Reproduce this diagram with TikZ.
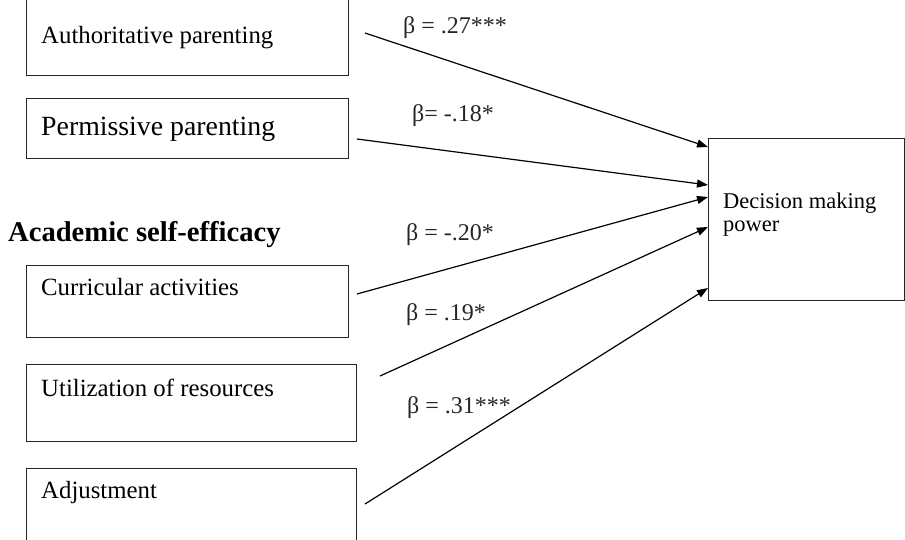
\documentclass[tikz,border=0pt]{standalone}
\usepackage{fontspec}
\setmainfont{Liberation Serif}
\usetikzlibrary{arrows.meta,calc}
\begin{document}
\begin{tikzpicture}[x=1pt,y=-1pt,
  box/.style={draw=black!85, line width=1.4pt, anchor=north west, inner sep=0pt},
  lbl/.style={anchor=base west, inner sep=0pt, font=\fontsize{24.8}{30}\selectfont},
  betalbl/.style={anchor=base west, inner sep=0pt, font=\fontsize{24}{28}\selectfont, text=black!85},
  conn/.style={line width=1.2pt, -{Triangle[length=11pt,width=8pt]}}]
\useasboundingbox (0,0) rectangle (905,539);
\clip (0,0) rectangle (905,539);
% boxes
\node[box, minimum width=322pt, minimum height=80pt] (auth) at (26,-5) {};
\node[box, minimum width=322pt, minimum height=60pt] (perm) at (26,98) {};
\node[box, minimum width=322pt, minimum height=72pt] (curr) at (26,265) {};
\node[box, minimum width=330pt, minimum height=77pt] (util) at (26,364) {};
\node[box, minimum width=330pt, minimum height=80pt] (adj) at (26,468) {};
\node[box, minimum width=196pt, minimum height=162pt] (dec) at (708,138) {};
% texts
\node[lbl] (tauth) at (41,43) {Authoritative parenting};
\node[lbl, font=\fontsize{27.8}{32}\selectfont] (tperm) at (41,135) {Permissive parenting};
\node[anchor=base west, inner sep=0pt, font=\bfseries\fontsize{28.6}{33}\selectfont] (acad) at (8,241) {Academic self-efficacy};
\node[lbl] (tcurr) at (41,295) {Curricular activities};
\node[lbl] (tutil) at (41,396) {Utilization of resources};
\node[lbl] (tadj) at (41,498) {Adjustment};
\node[anchor=base west, inner sep=0pt, font=\fontsize{22.5}{23}\selectfont] (tdec1) at (723,208) {Decision making};
\node[anchor=base west, inner sep=0pt, font=\fontsize{22.5}{23}\selectfont] (tdec2) at (723,231) {power};
% connector starts
\coordinate (s1) at (365,33);
\coordinate (s2) at (357,139);
\coordinate (s3) at (357,294);
\coordinate (s4) at (380,376);
\coordinate (s5) at (365,504);
\draw[conn] (s1) -- ($(dec.north west)+(0,9)$);
\draw[conn] (s2) -- ($(dec.north west)+(0,47)$);
\draw[conn] (s3) -- ($(dec.north west)+(0,59)$);
\draw[conn] (s4) -- ($(dec.north west)+(0,89)$);
\draw[conn] (s5) -- ($(dec.north west)+(0,150)$);
% labels
\node[betalbl] (l1) at (403,33) {β = .27***};
\node[betalbl] (l2) at (412,121) {β= -.18*};
\node[betalbl] (l3) at (406,240) {β = -.20*};
\node[betalbl] (l4) at (406,320) {β = .19*};
\node[betalbl] (l5) at (407,413) {β = .31***};
\end{tikzpicture}
\end{document}
